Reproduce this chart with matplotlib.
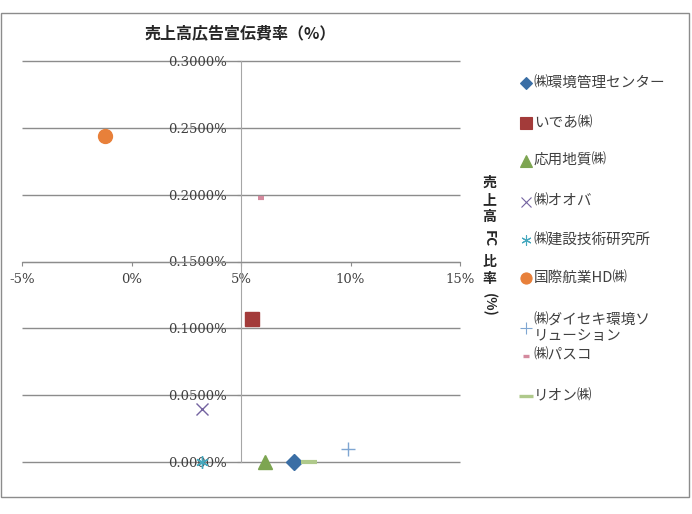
import matplotlib.pyplot as plt
import matplotlib.ticker as mticker
from matplotlib.lines import Line2D
from matplotlib.patches import Rectangle

plt.rcParams['font.family'] = ['Noto Sans CJK JP', 'DejaVu Sans']

# data (ratios in %)
companies = ['㈱環境管理センター', 'いであ㈱', '応用地質㈱', '㈱オオバ', '㈱建設技術研究所',
             '国際航業HD㈱', '㈱ダイセキ環境ソ\nリューション', '㈱パスコ', 'リオン㈱']
fc_ratio = [7.4, 5.5, 6.1, 3.2, 3.2, -1.2, 9.9, 5.9, 8.1]          # x, %
ad_ratio = [0.0, 0.107, 0.0, 0.040, 0.0, 0.244, 0.0097, 0.1975, 0.0]  # y, %
y_ticks = [0, 0.0005, 0.001, 0.0015, 0.002, 0.0025, 0.003]
x_ticks = [-0.05, 0, 0.05, 0.10, 0.15]

markers = ['D', 's', '^', 'x', (6, 2, 0), 'o', '+', '_', '_']
colors = ['#3A6EA5', '#A33B3A', '#7DA551', '#7463A0', '#45A8BE',
          '#E8803A', '#7FA6D2', '#D48A9E', '#AFC98B']
sizes = [8, 10, 10, 9, 9, 10, 10, 5, 12]
mews = [1, 1, 1, 1, 1, 1, 1, 3, 3]

W, H = 692, 514
fig = plt.figure(figsize=(W / 100, H / 100), dpi=100)
fig.patches.append(Rectangle((1 / W, 1 - 497 / H), 688 / W, 484 / H,
                             transform=fig.transFigure, fill=False,
                             edgecolor='#8C8C8C', lw=1))

ax = fig.add_axes([22 / W, 1 - 462 / H, 438 / W, 401 / H])
ax.hlines(y_ticks, -0.05, 0.15, color='#8C8C8C', lw=1, clip_on=False, zorder=0)
for i in range(len(companies)):
    ax.plot(fc_ratio[i] / 100, ad_ratio[i] / 100, linestyle='none',
            marker=markers[i], color=colors[i], markersize=sizes[i],
            markeredgewidth=mews[i], clip_on=False, zorder=5)

ax.set_xlim(-0.05, 0.15)
ax.set_ylim(0, 0.003)
ax.set_xticks(x_ticks)
ax.set_yticks(y_ticks)
ax.xaxis.set_major_formatter(mticker.FuncFormatter(lambda v, p: '%d%%' % round(v * 100)))
ax.yaxis.set_major_formatter(mticker.FuncFormatter(lambda v, p: '%.4f%%' % (v * 100)))
for s in ['top', 'right']:
    ax.spines[s].set_visible(False)
ax.spines['left'].set_position(('data', 0.05))
ax.spines['bottom'].set_position(('data', 0.0015))
ax.spines['left'].set_color('#A6A6A6')
ax.spines['bottom'].set_color('#8C8C8C')
ax.tick_params(axis='both', direction='out', length=3, color='#8C8C8C',
               labelcolor='#404040', labelsize=9.5)
ax.tick_params(axis='y', pad=7)
ax.tick_params(axis='x', pad=5)
for lab in ax.get_xticklabels() + ax.get_yticklabels():
    lab.set_family('DejaVu Serif')

fig.text(240 / W, 1 - 33 / H, '売上高広告宣伝費率（%）', ha='center', va='center',
         fontsize=11.5, fontweight='bold', color='#262626')

# vertical stacked axis title on the right
ylab = [('売', 183, 0), ('上', 200, 0), ('高', 217, 0), ('FC', 239, -90),
        ('比', 262, 0), ('率', 279, 0), ('(%)', 305, -90)]
for ch, yy, rot in ylab:
    fig.text(489 / W, 1 - yy / H, ch, ha='center', va='center', rotation=rot,
             fontsize=10, fontweight='bold', color='#262626')

# legend
leg_y = [83, 123, 161, 202, 240, 278, 328, 356, 396]
for i in range(len(companies)):
    fig.add_artist(Line2D([526 / W], [1 - leg_y[i] / H], transform=fig.transFigure,
                          linestyle='none', marker=markers[i], color=colors[i],
                          markersize=sizes[i] * 0.8, markeredgewidth=mews[i] * 0.8))
    fig.text(534 / W, 1 - leg_y[i] / H, companies[i], ha='left', va='center',
             fontsize=10.5, color='#404040', linespacing=1.1)

fig.savefig('out.png', dpi=100)
